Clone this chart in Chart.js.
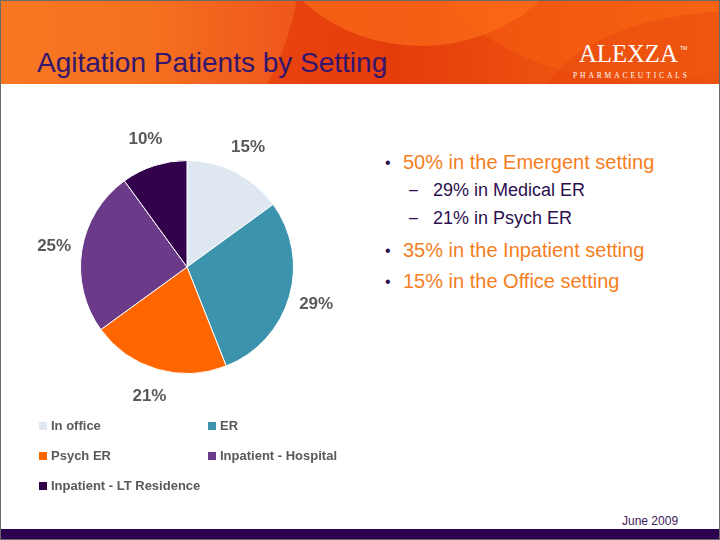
<!DOCTYPE html>
<html><head><meta charset="utf-8">
<script src="https://cdn.jsdelivr.net/npm/chart.js@4.4.1/dist/chart.umd.min.js"></script>
<style>
html,body{margin:0;padding:0;background:#fff;}
#slide{position:relative;width:720px;height:540px;overflow:hidden;background:#fff;font-family:"Liberation Sans",Arial,sans-serif;box-sizing:border-box;border:1px solid #6a6a6a;}
#hdr{position:absolute;left:0;top:0;width:720px;height:83px;overflow:hidden;
background:linear-gradient(90deg,#f57018 0%,#f06614 20%,#e8420e 40%,#e53c0c 55%,#ec500e 75%,#f06012 100%);}
.sh{position:absolute;border-radius:50%;}
#title{position:absolute;left:36px;top:46px;font-size:28px;color:#33166e;white-space:nowrap;}
#logo{position:absolute;left:578px;top:38px;color:#fff;font-family:"Liberation Serif","DejaVu Serif",serif;font-size:26px;transform:scaleX(0.95);transform-origin:left top;}
#logo2{position:absolute;left:572px;top:70px;color:#fff;font-family:"Liberation Serif",serif;font-size:7.5px;letter-spacing:2.9px;}
#tm{position:absolute;left:679px;top:44px;color:#fff;font-size:5px;}
#chartwrap{position:absolute;left:0;top:110px;width:372px;height:312px;}
#legend{position:absolute;left:0;top:0;}
.li{position:absolute;font-size:13px;font-weight:bold;color:#595959;white-space:nowrap;}
.li span{display:inline-block;width:8px;height:8px;margin-right:4px;vertical-align:0px;}
#bul{position:absolute;left:0;top:0;}
.b1{position:absolute;font-size:20px;color:#f57e1e;white-space:nowrap;}
.b2{position:absolute;font-size:18px;color:#2d0f4f;white-space:nowrap;}
.dot{position:absolute;font-size:16px;color:#2d0f4f;}
#foot{position:absolute;left:621px;top:513px;font-size:12px;color:#3b1a5a;}
#bar{position:absolute;left:0;top:528px;width:720px;height:12px;background:#2e0050;}
</style></head>
<body>
<div id="slide">
 <div id="hdr">
  <div class="sh" style="left:-260px;top:-330px;width:560px;height:560px;background:rgba(255,140,60,0.30);"></div>
  <div class="sh" style="left:260px;top:-230px;width:320px;height:275px;background:rgba(255,120,30,0.55);"></div>
  <div class="sh" style="left:400px;top:-300px;width:480px;height:380px;background:rgba(255,105,20,0.35);"></div>
  <div class="sh" style="left:540px;top:10px;width:400px;height:200px;background:rgba(225,55,10,0.30);"></div>
  <div id="title">Agitation Patients by Setting</div>
  <div id="logo">ALEXZA</div>
  <div id="tm">TM</div>
  <div id="logo2">PHARMACEUTICALS</div>
 </div>
 <div id="chartwrap"><canvas id="c" width="372" height="312"></canvas></div>
 <div id="legend"></div>
 <div id="bul"></div>
 <div id="foot">June 2009</div>
 <div id="bar"></div>
</div>
<script>
const categories = ["In office","ER","Psych ER","Inpatient - Hospital","Inpatient - LT Residence"];
const values = [15,29,21,25,10];
const colors = ["#dfe8f0","#3b93ae","#ff6600","#6b3a88","#33004c"];
const legendPos = [[38,417],[207,417],[38,447],[207,447],[38,477]];
const bullets = [
 {lvl:1,text:"50% in the Emergent setting"},
 {lvl:2,text:"29% in Medical ER"},
 {lvl:2,text:"21% in Psych ER"},
 {lvl:1,text:"35% in the Inpatient setting"},
 {lvl:1,text:"15% in the Office setting"}
];
const bulletTops = [150,179,207,238,269];

const lg = document.getElementById('legend');
categories.forEach((c,i)=>{
  const d=document.createElement('div');d.className='li';
  d.style.left=legendPos[i][0]+'px';d.style.top=legendPos[i][1]+'px';
  d.innerHTML='<span style="background:'+colors[i]+'"></span>'+c;
  lg.appendChild(d);
});
const bl=document.getElementById('bul');
bullets.forEach((b,i)=>{
  const t=document.createElement('div');
  const m=document.createElement('div');m.className='dot';
  if(b.lvl===1){t.className='b1';t.style.left='402px';t.style.top=bulletTops[i]+'px';
    m.textContent='•';m.style.left='384px';m.style.top=(bulletTops[i]+3)+'px';}
  else{t.className='b2';t.style.left='432px';t.style.top=bulletTops[i]+'px';
    m.textContent='–';m.style.left='408px';m.style.top=(bulletTops[i]+1)+'px';}
  t.textContent=b.text;bl.appendChild(m);bl.appendChild(t);
});

const outLabels={id:'outLabels',afterDatasetsDraw(chart){
  const ctx=chart.ctx;const meta=chart.getDatasetMeta(0);
  ctx.save();ctx.font='bold 17px "Liberation Sans", Arial, sans-serif';
  ctx.fillStyle='#595959';ctx.textAlign='center';ctx.textBaseline='middle';
  meta.data.forEach((arc,i)=>{
    const p=arc.getProps(['x','y','startAngle','endAngle','outerRadius'],true);
    const a=(p.startAngle+p.endAngle)/2;const r=p.outerRadius+28;
    ctx.fillText(values[i]+'%',p.x+Math.cos(a)*r,p.y+Math.sin(a)*r);
  });
  ctx.restore();
}};
new Chart(document.getElementById('c'),{
  type:'pie',
  data:{labels:categories,datasets:[{data:values,backgroundColor:colors,borderColor:'#ffffff',borderWidth:1}]},
  options:{responsive:false,animation:false,
    layout:{padding:{left:79,right:79,top:49,bottom:49}},
    plugins:{legend:{display:false},tooltip:{enabled:false}}},
  plugins:[outLabels]
});
</script>
</body></html>
